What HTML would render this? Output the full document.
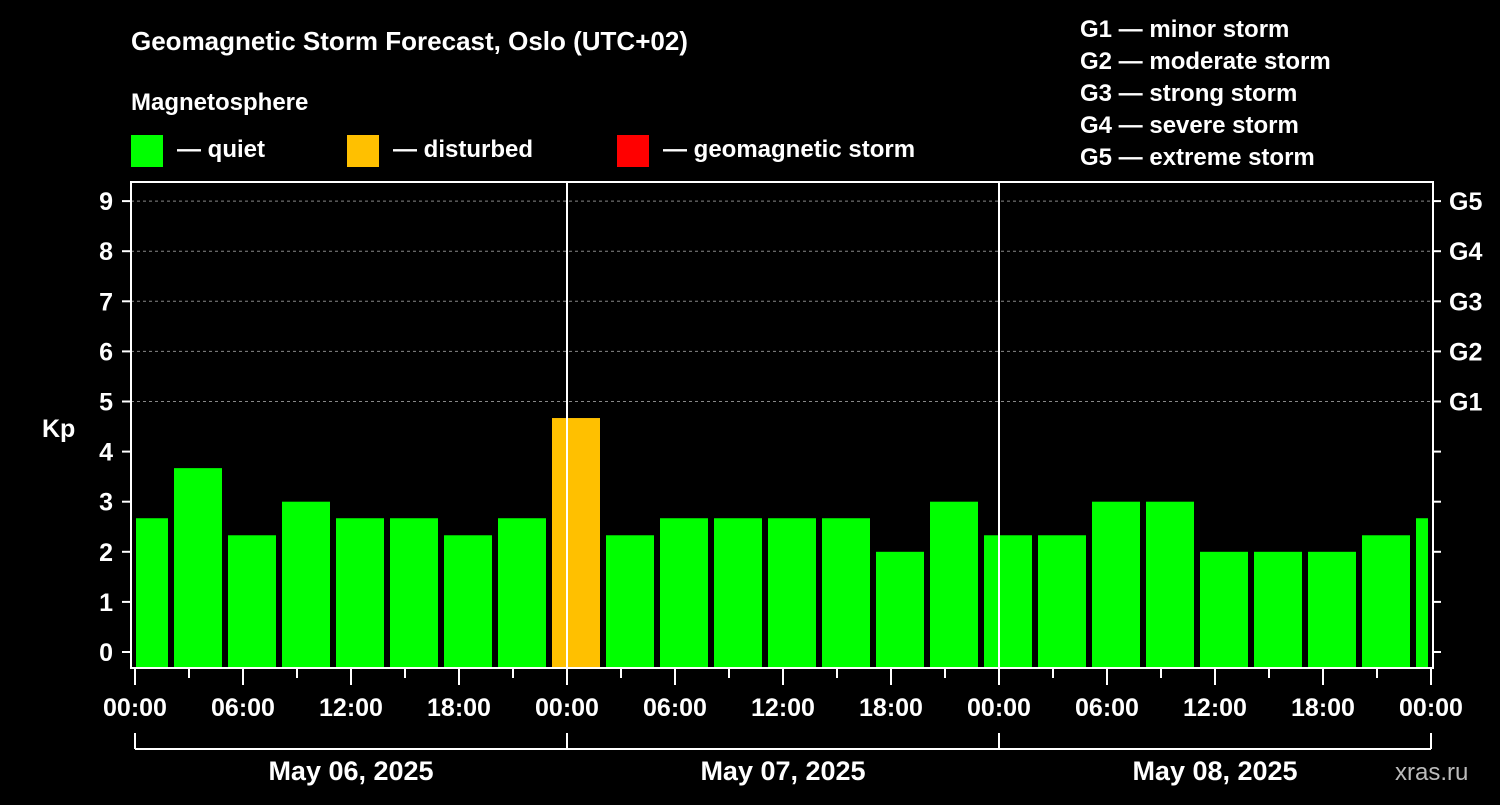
<!DOCTYPE html>
<html><head><meta charset="utf-8"><style>
body{margin:0;background:#000;}
svg text{font-family:"Liberation Sans",Arial,sans-serif;font-weight:bold;fill:#fff;}
</style></head><body>
<svg id="chart" width="1500" height="800" viewBox="0 0 1500 800">
<rect width="1500" height="800" fill="#000"/>
<text x="131" y="50" font-size="26">Geomagnetic Storm Forecast, Oslo (UTC+02)</text>
<text x="131" y="110" font-size="24">Magnetosphere</text>
<g><rect x="131" y="135" width="32" height="32" fill="#00ff00"/><text x="177" y="157" font-size="24">— quiet</text></g>
<g><rect x="347" y="135" width="32" height="32" fill="#ffc000"/><text x="393" y="157" font-size="24">— disturbed</text></g>
<g><rect x="617" y="135" width="32" height="32" fill="#ff0000"/><text x="663" y="157" font-size="24">— geomagnetic storm</text></g>
<g font-size="24">
<text x="1080" y="37">G1 — minor storm</text>
<text x="1080" y="69">G2 — moderate storm</text>
<text x="1080" y="101">G3 — strong storm</text>
<text x="1080" y="133">G4 — severe storm</text>
<text x="1080" y="165">G5 — extreme storm</text>
</g>
<g id="grid"></g><g id="bars"></g><g id="axes"></g>
<text x="1395" y="780" font-size="24" fill="#bbb" style="fill:#bbb;font-weight:normal">xras.ru</text>
</svg>
<script>
const kpValues=[2.67,3.67,2.33,3,2.67,2.67,2.33,2.67,4.67,2.33,2.67,2.67,2.67,2.67,2,3,2.33,2.33,3,3,2,2,2,2.33,2.67];
const kpTicks=[0,1,2,3,4,5,6,7,8,9];
const gLabels=["G1","G2","G3","G4","G5"];
const timeLabels=["00:00","06:00","12:00","18:00","00:00","06:00","12:00","18:00","00:00","06:00","12:00","18:00","00:00"];
const dayLabels=["May 06, 2025","May 07, 2025","May 08, 2025"];
const NS="http://www.w3.org/2000/svg";
const L=131,R=1433,T=182,B=668,x0=135,pxH=18;
const y=v=>652-v*50.1;
const xh=h=>x0+h*pxH;
function mk(tag,attrs,parent,txt){const e=document.createElementNS(NS,tag);for(const k in attrs)e.setAttribute(k,attrs[k]);if(txt!==undefined)e.textContent=txt;parent.appendChild(e);return e;}
const grid=document.getElementById('grid'),bars=document.getElementById('bars'),axes=document.getElementById('axes');
kpTicks.forEach(v=>{if(v>=5){const l=mk('line',{x1:L,x2:R,y1:y(v),y2:y(v),stroke:'#888','stroke-dasharray':'3,3','stroke-width':1},grid);}
 const t=mk('text',{x:113,y:y(v)+9,'font-size':25,'text-anchor':'end'},axes,String(v));
 mk('line',{x1:122,x2:L,y1:y(v),y2:y(v),stroke:'#fff','stroke-width':2},axes);
 mk('line',{x1:R,x2:1441,y1:y(v),y2:y(v),stroke:'#fff','stroke-width':2},axes);});
gLabels.forEach((g,i)=>{const t=mk('text',{x:1449,y:y(5+i)+9,'font-size':25},axes,g);});
kpValues.forEach((v,i)=>{let a=xh(i*3-1)+3,b=xh(i*3+2)-3;a=Math.max(a,L+5);b=Math.min(b,R-5);
 const r=mk('rect',{x:a,y:y(v),width:b-a,height:667-y(v),fill:v>=5?'#ff0000':(v>=4?'#ffc000':'#00ff00')},bars);
 });
[1,2].forEach(d=>{const l=mk('line',{x1:xh(d*24),x2:xh(d*24),y1:T,y2:B,stroke:'#fff','stroke-width':2},axes);});
const f=mk('rect',{x:L,y:T,width:R-L,height:B-T,fill:'none',stroke:'#fff','stroke-width':2},axes);
for(let h=0;h<=72;h+=3){mk('line',{x1:xh(h),x2:xh(h),y1:B,y2:h%6===0?685:678,stroke:'#fff','stroke-width':2},axes);}
timeLabels.forEach((s,i)=>{const t=mk('text',{x:xh(i*6),y:716,'font-size':25,'text-anchor':'middle'},axes,s);});
mk('line',{x1:xh(0),x2:xh(72),y1:749,y2:749,stroke:'#fff','stroke-width':2},axes);
for(let d=0;d<=3;d++)mk('line',{x1:xh(d*24),x2:xh(d*24),y1:733,y2:749,stroke:'#fff','stroke-width':2},axes);
dayLabels.forEach((s,i)=>{const t=mk('text',{x:xh(i*24+12),y:780,'font-size':27,'text-anchor':'middle'},axes,s);});
const yt=mk('text',{x:42,y:437,'font-size':25},axes,'Kp');
</script>
</body></html>
